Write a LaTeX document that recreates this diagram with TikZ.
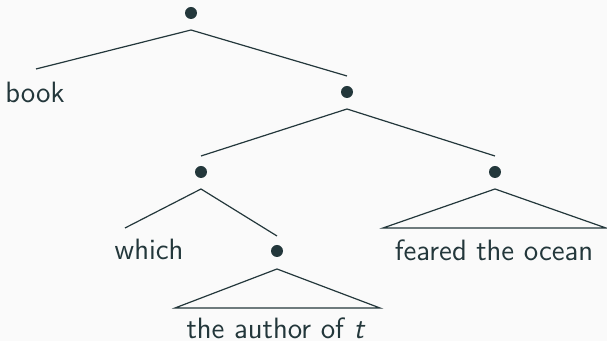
\documentclass[tikz,border=0pt]{standalone}
\usetikzlibrary{calc}
\definecolor{fg}{HTML}{23373B}
\definecolor{bg}{HTML}{FAFAFA}
\begin{document}
\begin{tikzpicture}[x=0.5pt,y=-0.5pt,
  dot/.style={circle,fill=fg,inner sep=0pt,minimum size=6pt},
  leaf/.style={text=fg,inner sep=0pt,font=\sffamily\fontsize{14.7}{17}\selectfont},
  edge/.style={draw=fg,line width=0.6pt}]
  \fill[bg] (0,0) rectangle (607,341);
  \useasboundingbox (0,0) rectangle (607,341);
  % tree nodes
  \node[dot] (root) at (191,13) {};
  \node[dot] (r1) at (347,92) {};
  \node[dot] (a) at (201,172) {};
  \node[dot] (b) at (495,172) {};
  \node[dot] (c) at (277,251) {};
  % leaves
  \node[leaf] (book) at (35,92) {book};
  \node[leaf] (which) at (149,249) {which};
  \node[leaf] (feared) at (494,250) {feared the ocean};
  \node[leaf] (author) at (276,328) {the author of \textit{t}};
  % branch points just below each dot
  \coordinate (root-x) at ($(root)+(0,17)$);
  \coordinate (r1-x) at ($(r1)+(0,17)$);
  \coordinate (a-x) at ($(a)+(0,17)$);
  \coordinate (b-x) at ($(b)+(0,17)$);
  \coordinate (c-x) at ($(c)+(0,18)$);
  % branch ends
  \coordinate (book-t) at (36,69);
  \coordinate (r1-t) at (347,76);
  \coordinate (a-t) at (201,156);
  \coordinate (b-t) at (495,156);
  \coordinate (which-t) at (125,228);
  \coordinate (c-t) at (277,236);
  % branches
  \draw[edge] (book-t) -- (root-x) -- (r1-t);
  \draw[edge] (a-t) -- (r1-x) -- (b-t);
  \draw[edge] (which-t) -- (a-x) -- (c-t);
  % roof triangles
  \draw[edge] (c-x) -- (175,308) -- (380,308) -- cycle;
  \draw[edge] (b-x) -- (383,228) -- (606,228) -- cycle;
\end{tikzpicture}
\end{document}
